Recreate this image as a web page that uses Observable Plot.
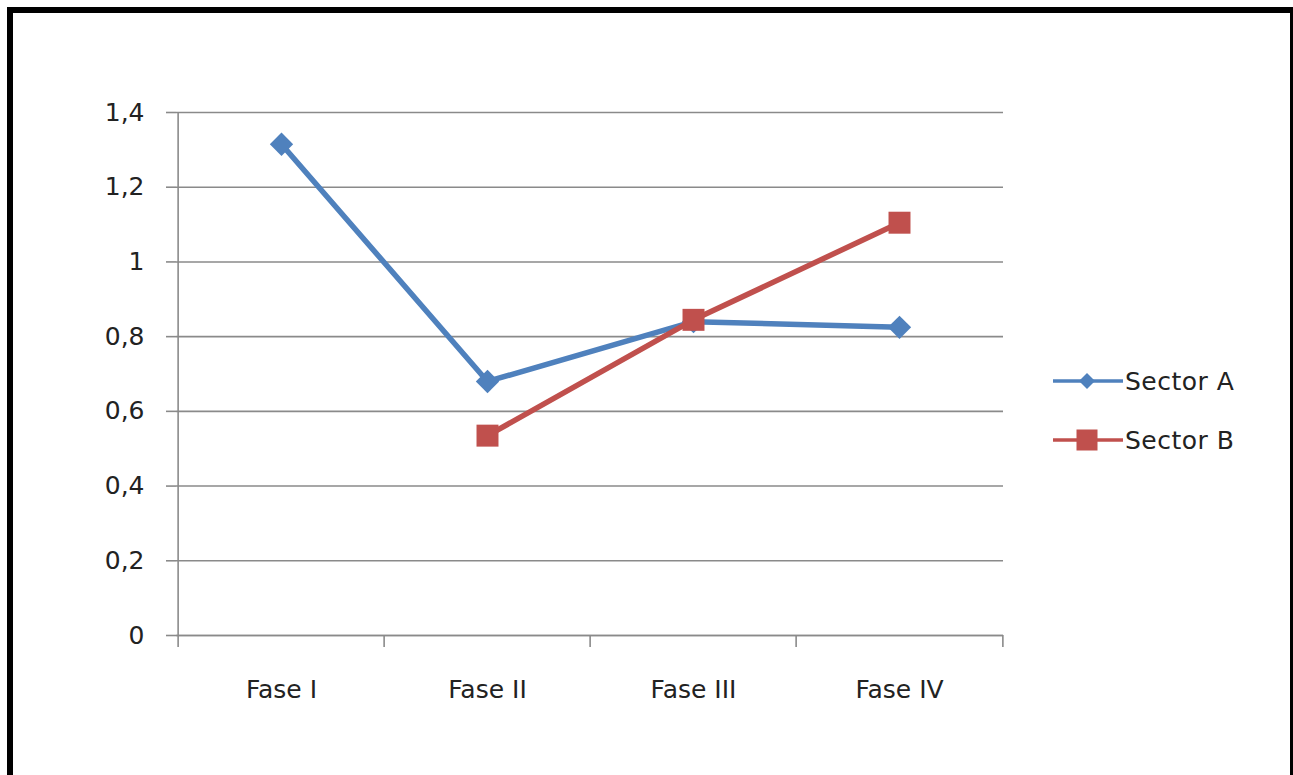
<!DOCTYPE html>
<html>
<head>
<meta charset="utf-8">
<script src="https://cdn.jsdelivr.net/npm/d3@7"></script>
<script src="https://cdn.jsdelivr.net/npm/@observablehq/plot@0.6"></script>
<style>
  html, body { margin: 0; padding: 0; background: #fff; width: 1293px; height: 775px; overflow: hidden; }
  #frame { position: absolute; left: 7px; top: 7px; width: 1277px; height: 800px; border: 6px solid #000; box-sizing: content-box; }
  #chart { position: absolute; left: 0; top: 0; }
  #legend { position: absolute; left: 1053px; top: 361px; font-family: "DejaVu Sans", sans-serif; font-size: 25px; color: #222; letter-spacing: 0.5px; }
  .item { position: absolute; left: 0; height: 40px; display: flex; align-items: center; white-space: nowrap; }
  .item svg { display: block; }
</style>
</head>
<body>
<div id="frame"></div>
<div id="chart"></div>
<div id="legend"></div>
<script>
const categories = ["Fase I", "Fase II", "Fase III", "Fase IV"];
const seriesNames = ["Sector A", "Sector B"];
const sectorA = [1.315, 0.68, 0.84, 0.825];
const sectorB = [null, 0.535, 0.845, 1.105];
const yTicks = [0, 0.2, 0.4, 0.6, 0.8, 1.0, 1.2, 1.4];
const colors = ["#4F81BD", "#C0504D"];
const symbols = ["diamond2", "square"];

const data = [];
categories.forEach((c, i) => {
  if (sectorA[i] != null) data.push({cat: c, value: sectorA[i], series: seriesNames[0]});
  if (sectorB[i] != null) data.push({cat: c, value: sectorB[i], series: seriesNames[1]});
});

const W = 1293, H = 775;
const mL = 176, mR = 290, mT = 112, mB = 140;
const step = (W - mL - mR) / categories.length;
const fmt = d => String(d).replace(".", ",");

const plot = Plot.plot({
  width: W,
  height: H,
  marginLeft: mL,
  marginRight: mR,
  marginTop: mT,
  marginBottom: mB,
  style: { fontFamily: "DejaVu Sans, sans-serif", fontSize: "25px", color: "#222", background: "transparent" },
  x: { type: "point", domain: categories, padding: 0.5, label: null },
  y: { domain: [0, 1.4], label: null },
  color: { domain: seriesNames, range: colors },
  symbol: { domain: seriesNames, range: symbols },
  marks: [
    Plot.gridY(yTicks, { stroke: "#8a8a8a", strokeOpacity: 1, strokeWidth: 1.6 }),
    Plot.axisY(yTicks, { tickFormat: fmt, tickSize: 10, tickPadding: 22, stroke: "#8a8a8a", strokeWidth: 1.6, fill: "#222", label: null }),
    Plot.ruleX([categories[0]], { dx: -step / 2, stroke: "#8a8a8a", strokeWidth: 1.6 }),
    Plot.ruleY([0], { stroke: "#8a8a8a", strokeWidth: 1.6 }),
    Plot.axisX(categories, { tickSize: 12, tickFormat: () => "", dx: -step / 2, stroke: "#8a8a8a", strokeWidth: 1.6 }),
    Plot.axisX([categories[categories.length - 1]], { tickSize: 12, tickFormat: () => "", dx: step / 2, stroke: "#8a8a8a", strokeWidth: 1.6 }),
    Plot.axisX(categories, { tickSize: 0, tickPadding: 45, fill: "#222", label: null, style: { letterSpacing: "0.5px" } }),
    Plot.line(data, { x: "cat", y: "value", z: "series", stroke: "series", strokeWidth: 5.5, curve: "linear" }),
    Plot.dot(data.filter(d => d.series === seriesNames[0]), { x: "cat", y: "value", symbol: "series", fill: "series", r: 10.5 }),
    Plot.dot(data.filter(d => d.series === seriesNames[1]), { x: "cat", y: "value", symbol: "series", fill: "series", r: 12.4 })
  ]
});
document.getElementById("chart").appendChild(plot);

const legend = document.getElementById("legend");
seriesNames.forEach((name, i) => {
  const div = document.createElement("div");
  div.className = "item";
  div.style.top = (i * 59) + "px";
  const marker = i === 0
    ? `<path d="M34,-8 L42,0 L34,8 L26,0 Z" fill="${colors[i]}"/>`
    : `<rect x="23.5" y="-10.5" width="21" height="21" fill="${colors[i]}"/>`;
  div.innerHTML = `<svg width="72" height="40" viewBox="0 -20 72 40"><line x1="0" y1="0" x2="70" y2="0" stroke="${colors[i]}" stroke-width="3.5"/>${marker}</svg><span>${name}</span>`;
  legend.appendChild(div);
});
</script>
</body>
</html>
